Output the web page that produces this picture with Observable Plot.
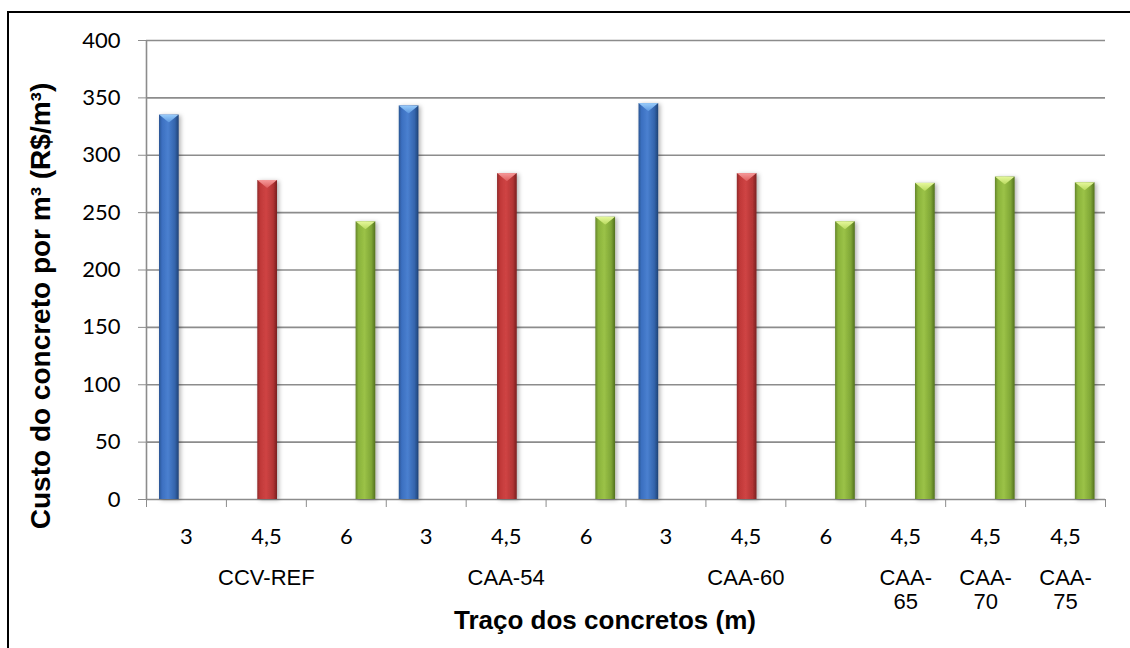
<!DOCTYPE html>
<html><head><meta charset="utf-8">
<script src="https://cdn.jsdelivr.net/npm/d3@7"></script>
<script src="https://cdn.jsdelivr.net/npm/@observablehq/plot@0.6"></script>
<style>
body{margin:0;background:#fff;}
#wrap{position:relative;width:1130px;height:648px;overflow:hidden;background:#fff}
#frame{position:absolute;left:7px;top:11px;width:1200px;height:700px;border-left:2px solid #000;border-top:2px solid #000;pointer-events:none}
#chart svg text{fill:#000}
</style></head><body>
<div id="wrap"><div id="chart"></div><div id="frame"></div></div>
<script>
// ---- data ----
const traces = ["3","4,5","6","3","4,5","6","3","4,5","6","4,5","4,5","4,5"];
const groups = ["CCV-REF","CCV-REF","CCV-REF","CAA-54","CAA-54","CAA-54","CAA-60","CAA-60","CAA-60","CAA-65","CAA-70","CAA-75"];
const groupLabels = ["CCV-REF","CAA-54","CAA-60","CAA-\n65","CAA-\n70","CAA-\n75"];
const costs = [335,278,242,343,284,246,345,284,242,275.5,281,276];
const seriesOf = [0,1,2,0,1,2,0,1,2,2,2,2];
const seriesNames = ["3","4,5","6"];
const yTicks = [0,50,100,150,200,250,300,350,400];
const yTitle = "Custo do concreto por m³ (R$/m³)";
const xTitle = "Traço dos concretos (m)";

// ---- derived ----
const data = costs.map((v,i)=>({i, v, s: seriesOf[i], g: groups[i]}));
const groupNames = [...new Set(groups)];
const groupData = groupNames.map((g,k)=>{
  const idx = groups.map((x,i)=>x===g?i:-1).filter(i=>i>=0);
  return {label: groupLabels[k], c: d3.mean(idx, i=>i+0.5)};
});
const slotStep = 0.23, halfW = 0.1233, shift = 0.016, capUnits = 7;
const center = d => d.i + 0.5 + shift + (d.s-1)*slotStep;

const barFills = ["url(#gBlue)","url(#gRed)","url(#gGreen)"];
const capFills = ["url(#cBlue)","url(#cRed)","url(#cGreen)"];
const sans = "'Liberation Sans', Arial, sans-serif";
const tickFont = "Lato, 'Open Sans', sans-serif";

const marks = [
  Plot.ruleY(yTicks, {stroke:"#8c8c8c", strokeWidth:1.6}),
  Plot.ruleX([0], {stroke:"#8c8c8c", strokeWidth:1.6})
];
seriesNames.forEach((name,s)=>{
  const sub = data.filter(d=>d.s===s);
  marks.push(Plot.rect(sub, {x1: d=>center(d)-halfW, x2: d=>center(d)+halfW, y1: d=>0, y2: d=>d.v, fill: barFills[s], ariaLabel: d=>"bar", ariaDescription:"bars"}));
  marks.push(Plot.rect(sub, {x1: d=>center(d)-halfW, x2: d=>center(d)+halfW, y1: d=>d.v-capUnits, y2: d=>d.v, fill: capFills[s], ariaLabel: d=>"cap", ariaDescription:"caps"}));
});
marks.push(
  Plot.text(data, {x: d=>d.i+0.5, text: d=>traces[d.i], frameAnchor:"bottom", textAnchor:"middle", lineAnchor:"middle", dy:37, fontSize:22, fontFamily:tickFont}),
  Plot.text(groupData, {x: "c", text: "label", frameAnchor:"bottom", textAnchor:"middle", lineAnchor:"top", dy:69, fontSize:22, lineHeight:1.07, fontFamily:sans}),
  Plot.text([xTitle], {frameAnchor:"bottom", textAnchor:"middle", lineAnchor:"middle", dy:121, dx:-21, fontSize:26, fontWeight:"bold", fontFamily:sans}),
  Plot.text([yTitle], {frameAnchor:"left", rotate:-90, textAnchor:"middle", lineAnchor:"middle", dx:-105, dy:36, fontSize:28, fontWeight:"bold", fontFamily:sans})
);

const chart = Plot.plot({
  width:1130, height:648,
  marginLeft:146, marginRight:25, marginTop:40, marginBottom:149,
  x:{type:"linear", domain:[0,12], ticks:d3.range(13), tickFormat:()=>"", tickSize:8, label:null},
  y:{domain:[0,400], ticks:yTicks, tickSize:8, tickPadding:18, label:null},
  style:{fontFamily:tickFont, fontSize:"22px", color:"#8c8c8c", background:"transparent", overflow:"visible"},
  marks
});
document.getElementById("chart").appendChild(chart);

// ---- styling defs (gradients, triangle clip, shadow) ----
const svg = d3.select(chart);
const defs = svg.insert("defs", ":first-child");
function grad(id, vertical, stops){
  const g = defs.append("linearGradient").attr("id", id).attr("x1",0).attr("y1",0)
    .attr("x2", vertical ? 0 : 1).attr("y2", vertical ? 1 : 0);
  stops.forEach(([o,c])=>g.append("stop").attr("offset",o).attr("stop-color",c));
}
grad("gBlue", false, [[0,"#2a5592"],[0.15,"#3b6fc0"],[0.45,"#4a80d0"],[0.8,"#3465ad"],[1,"#1f4275"]]);
grad("gRed", false, [[0,"#8e2a2a"],[0.15,"#c03838"],[0.45,"#cf4444"],[0.8,"#b23434"],[1,"#7a2020"]]);
grad("gGreen", false, [[0,"#64842a"],[0.15,"#8ab33c"],[0.45,"#9bc247"],[0.8,"#7fa636"],[1,"#52701e"]]);
grad("cBlue", true, [[0,"#9acdfb"],[1,"#5d98e0"]]);
grad("cRed", true, [[0,"#f69a9a"],[1,"#dd5c5c"]]);
grad("cGreen", true, [[0,"#e6f89c"],[1,"#b8da5e"]]);
defs.append("clipPath").attr("id","tri").attr("clipPathUnits","objectBoundingBox")
  .append("polygon").attr("points","0,0 1,0 0.5,1");
const f = defs.append("filter").attr("id","shadow").attr("x","-30%").attr("y","-5%").attr("width","180%").attr("height","115%");
f.append("feDropShadow").attr("dx",2).attr("dy",1).attr("stdDeviation",2).attr("flood-color","#000").attr("flood-opacity",0.3);
svg.selectAll('rect[aria-label="bar"], g[aria-description="bars"] rect').attr("filter","url(#shadow)");
svg.selectAll('rect[aria-label="cap"], g[aria-description="caps"] rect').attr("clip-path","url(#tri)");
</script>
</body></html>
